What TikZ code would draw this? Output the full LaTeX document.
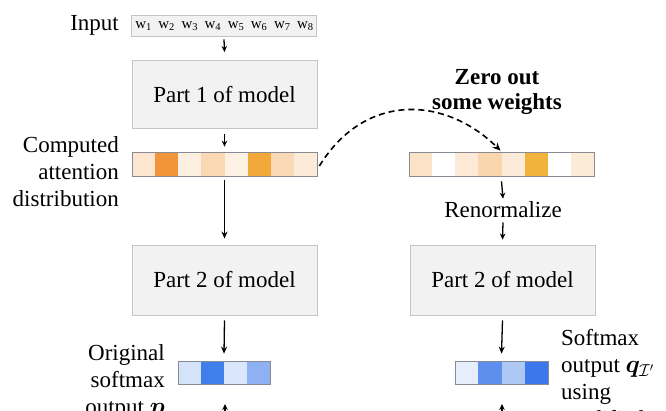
\documentclass[tikz,border=0pt]{standalone}
\usepackage{amsmath,bm}
\usepackage{fontspec}
\setmainfont{Liberation Serif}
\usetikzlibrary{arrows.meta}
\definecolor{boxfill}{HTML}{F2F2F2}
\definecolor{boxdraw}{HTML}{C4C4CC}
\definecolor{bardraw}{HTML}{8A8A94}
\definecolor{oA}{HTML}{FCE6CF}
\definecolor{oB}{HTML}{F0953A}
\definecolor{oC}{HTML}{FDF0E1}
\definecolor{oD}{HTML}{FAD8B3}
\definecolor{oE}{HTML}{FDF1E4}
\definecolor{oF}{HTML}{F2A93A}
\definecolor{oG}{HTML}{FAD9B6}
\definecolor{oH}{HTML}{FDEBDA}
\definecolor{rA}{HTML}{FBE3C8}
\definecolor{rB}{HTML}{FFFFFF}
\definecolor{rC}{HTML}{FCEAD6}
\definecolor{rD}{HTML}{F9D6AD}
\definecolor{rE}{HTML}{FDEBDA}
\definecolor{rF}{HTML}{F2B33C}
\definecolor{rG}{HTML}{FFFFFF}
\definecolor{rH}{HTML}{FCEBD7}
\definecolor{bA}{HTML}{D5E3FA}
\definecolor{bB}{HTML}{3F7EEB}
\definecolor{bC}{HTML}{D9E6FB}
\definecolor{bD}{HTML}{8EB1F2}
\definecolor{cA}{HTML}{E6EEFC}
\definecolor{cB}{HTML}{5E8EEE}
\definecolor{cC}{HTML}{AEC8F5}
\definecolor{cD}{HTML}{3C78EC}
\begin{document}
\begin{tikzpicture}[x=1pt,y=-1pt,
  every node/.style={font=\fontsize{23}{27}\selectfont, inner sep=0pt},
  partbox/.style={draw=boxdraw, fill=boxfill, line width=0.9pt, minimum width=185pt, minimum height=68pt},
  inbox/.style={draw=boxdraw, fill=boxfill, line width=0.9pt, minimum width=185pt, minimum height=21pt},
  barbox/.style={draw=bardraw, line width=0.7pt, minimum width=#1, minimum height=24pt},
  wlab/.style={font=\fontsize{15}{17}\selectfont},
  arr/.style={-{Stealth[length=7pt,width=6pt]}, line width=1.3pt},
  sarr/.style={-{Stealth[length=6pt,width=5.5pt]}, line width=1.3pt},
  dasharr/.style={-{Stealth[length=8pt,width=7pt]}, line width=1.6pt, dash pattern=on 6pt off 4pt}
]
\useasboundingbox (0,0) rectangle (666,411);
\clip (0,0) rectangle (666,411);
\fill[white] (0,0) rectangle (666,411);

% input
\node[anchor=east] (inlab) at (119,25) {Input};
\node[inbox] (input) at (224,25.5) {};
\foreach \i in {1,...,8}{
  \node[wlab] (w\i) at ({132+(\i-0.5)*23.125},26) {w\textsubscript{\i}};
}

% part 1
\node[partbox] (p1) at (224.5,94.5) {Part 1 of model};

% attention bar left
\foreach \c [count=\i] in {oA,oB,oC,oD,oE,oF,oG,oH}{
  \fill[\c] ({132+(\i-1)*23.125},152) rectangle ++(23.125,24);
}
\node[barbox=185pt] (attL) at (224.5,164) {};
\node[anchor=east, align=right] (attlab) at (119,172) {Computed\\attention\\distribution};

% part 2 left
\node[partbox, minimum height=70pt] (p2L) at (224.5,280) {Part 2 of model};

% blue left
\foreach \c [count=\i] in {bA,bB,bC,bD}{
  \fill[\c] ({178+(\i-1)*23},361) rectangle ++(23,23);
}
\node[barbox=92pt, minimum height=23pt] (outL) at (224,372.5) {};
\node[anchor=east, align=right] (outLlab) at (165,382) {Original\\softmax\\output $\bm{p}$};

% right side
\node[font=\fontsize{23}{25}\selectfont\bfseries, align=center] (zero) at (497,92) {Zero out\\some weights};
\foreach \c [count=\i] in {rA,rB,rC,rD,rE,rF,rG,rH}{
  \fill[\c] ({409+(\i-1)*23.125},152) rectangle ++(23.125,24);
}
\node[barbox=185pt] (attR) at (501.5,164) {};
\node (renorm) at (503,210) {Renormalize};
\node[partbox, minimum height=70pt] (p2R) at (502.5,280) {Part 2 of model};
\foreach \c [count=\i] in {cA,cB,cC,cD}{
  \fill[\c] ({455+(\i-1)*23.25},361) rectangle ++(23.25,23);
}
\node[barbox=93pt, minimum height=23pt] (outR) at (501.5,372.5) {};
\node[anchor=west, align=left] (outRlab) at (561,378) {Softmax\\output $\bm{q}_{\mathcal{I}'}$\\using\\modified};

% connectors
\draw[sarr] ([yshift=-3pt]input.south) -- ([yshift=8pt]p1.north);
\draw[sarr] ([yshift=-5pt]p1.south) -- ([yshift=5pt]attL.north);
\draw[arr] ([yshift=-4pt]attL.south) -- ([yshift=6pt]p2L.north);
\draw[arr] ([yshift=-5pt]p2L.south) -- ([yshift=7pt]outL.north);
\draw[dasharr] ([xshift=2pt,yshift=-2pt]attL.east) .. controls (365,92) and (445,96) .. ([xshift=-1pt,yshift=1pt]attR.north);
\draw[sarr] ([yshift=-5pt]attR.south) -- ([yshift=3pt]renorm.north);
\draw[sarr] ([yshift=-4pt]renorm.south) -- ([yshift=5pt]p2R.north);
\draw[arr] ([yshift=-5pt]p2R.south) -- ([yshift=7pt]outR.north);
\coordinate (belowL) at (225,440);
\coordinate (belowR) at (502,440);
\draw[sarr] (belowL) -- (225,404);
\draw[sarr] (belowR) -- (502,404);
\end{tikzpicture}
\end{document}
